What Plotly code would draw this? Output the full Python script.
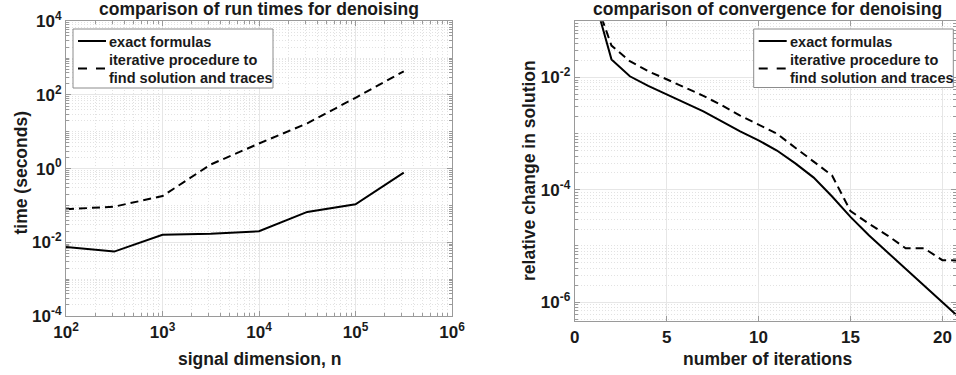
import plotly.graph_objects as go

# ---------------- data ----------------
signal_dim = [100, 316, 1000, 3162, 10000, 31623, 100000, 316228]
time_exact = [0.0075, 0.0056, 0.016, 0.017, 0.020, 0.067, 0.108, 0.78]
time_iter = [0.079, 0.093, 0.18, 1.3, 4.8, 17, 84, 440]

iterations = [1, 2, 3, 4, 5, 6, 7, 8, 9, 10, 11, 12, 13, 14, 15, 16, 17, 18, 19, 20, 21]
conv_exact = [0.31, 0.021, 0.0105, 0.0071, 0.0050, 0.0035, 0.0025, 0.00166, 0.0011,
              7.6e-4, 5.0e-4, 2.95e-4, 1.65e-4, 7.6e-5, 3.3e-5, 1.55e-5, 7.8e-6,
              3.9e-6, 1.95e-6, 1.0e-6, 5.0e-7]
conv_iter = [0.31, 0.037, 0.0195, 0.0129, 0.0093, 0.0066, 0.0047, 0.0032, 0.0021,
             0.00145, 0.0010, 5.6e-4, 3.2e-4, 1.8e-4, 4.2e-5, 2.5e-5, 1.55e-5,
             9.1e-6, 9.1e-6, 5.6e-6, 5.5e-6]

left_xticks = [1e2, 1e3, 1e4, 1e5, 1e6]
left_xticktext = ["10<sup>2</sup>", "10<sup>3</sup>", "10<sup>4</sup>", "10<sup>5</sup>", "10<sup>6</sup>"]
left_yticks = [1e-4, 1e-2, 1e0, 1e2, 1e4]
left_yticktext = ["10<sup>-4</sup>", "10<sup>-2</sup>", "10<sup>0</sup>", "10<sup>2</sup>", "10<sup>4</sup>"]
right_xticks = [0, 5, 10, 15, 20]
right_yticks = [1e-6, 1e-4, 1e-2]
right_yticktext = ["10<sup>-6</sup>", "10<sup>-4</sup>", "10<sup>-2</sup>"]

legend_lines = ["exact formulas", "iterative procedure to", "find solution and traces"]

# ---------------- styles ----------------
FONT = "Liberation Sans, Arial, sans-serif"
TXT = "#1a1a1a"
AXC = "#9a9a9a"
GRID = "#e6e6e6"
MGRID = "#e2e2e2"
DASH = "8px,5px"
W, H = 956, 375


def log_minor(d0, d1, extra=()):
    vals = [k * 10.0 ** d for d in range(d0, d1) for k in range(2, 10)]
    vals += [10.0 ** e for e in extra]
    return vals


def px(x):
    return x / W


def py(y):
    return 1 - y / H


fig = go.Figure()

fig.add_trace(go.Scatter(x=signal_dim, y=time_exact, mode="lines", name=legend_lines[0],
                         line=dict(color="black", width=2), xaxis="x", yaxis="y"))
fig.add_trace(go.Scatter(x=signal_dim, y=time_iter, mode="lines",
                         name=legend_lines[1] + " " + legend_lines[2],
                         line=dict(color="black", width=2, dash=DASH), xaxis="x", yaxis="y"))
fig.add_trace(go.Scatter(x=iterations, y=conv_exact, mode="lines", name=legend_lines[0],
                         line=dict(color="black", width=2), xaxis="x2", yaxis="y2"))
fig.add_trace(go.Scatter(x=iterations, y=conv_iter, mode="lines",
                         name=legend_lines[1] + " " + legend_lines[2],
                         line=dict(color="black", width=2, dash=DASH), xaxis="x2", yaxis="y2"))

tickfont = dict(family=FONT, size=17, color=TXT, weight="bold")

common = dict(showline=True, linecolor=AXC, linewidth=1, mirror="ticks",
              ticks="inside", ticklen=5, tickcolor=AXC, showgrid=True,
              gridcolor=GRID, gridwidth=1, zeroline=False, tickfont=tickfont,
              automargin=False)
minor_common = dict(tickmode="array", showgrid=True, gridcolor=MGRID, griddash="1px,2px",
                    ticks="inside", ticklen=3, tickcolor=AXC)

fig.update_layout(
    width=W, height=H,
    margin=dict(l=0, r=0, t=0, b=0),
    paper_bgcolor="white", plot_bgcolor="white",
    showlegend=False,
    xaxis=dict(domain=[px(66), px(452)], type="log", range=[2, 6], anchor="y",
               tickmode="array", tickvals=left_xticks, ticktext=left_xticktext,
               ticklabelstandoff=1,
               minor=dict(tickvals=log_minor(2, 6), **minor_common),
               **common),
    yaxis=dict(domain=[py(316), py(21.3)], type="log", range=[-4, 4], anchor="x",
               tickmode="array", tickvals=left_yticks, ticktext=left_yticktext,
               minor=dict(tickvals=log_minor(-4, 4, extra=(-3, -1, 1, 3)), **minor_common),
               **common),
    xaxis2=dict(domain=[px(574.7), 1.0], range=[0, 20.74], anchor="y2",
                tickmode="array", tickvals=right_xticks, ticklabelstandoff=1,
                **common),
    yaxis2=dict(domain=[py(320.7), py(21.3)], type="log", range=[-6.33, -1.0], anchor="x2",
                tickmode="array", tickvals=right_yticks, ticktext=right_yticktext,
                minor=dict(tickvals=log_minor(-7, -1, extra=(-5, -3)), **minor_common),
                **common),
)

# ---------------- legends (drawn as boxes with line samples and text) ----------------
legfont = dict(family=FONT, size=14.5, color=TXT, weight="bold")
for (bx0, bx1, by0, by1) in [(73, 273, 29, 88), (753.7, 953.3, 29, 87.5)]:
    fig.add_shape(type="rect", xref="paper", yref="paper",
                  x0=px(bx0), x1=px(bx1), y0=py(by1), y1=py(by0),
                  line=dict(color="#8c8c8c", width=1), fillcolor="white", layer="above")
    fig.add_shape(type="line", xref="paper", yref="paper",
                  x0=px(bx0 + 5), x1=px(bx0 + 33), y0=py(41), y1=py(41),
                  line=dict(color="black", width=2), layer="above")
    fig.add_shape(type="line", xref="paper", yref="paper",
                  x0=px(bx0 + 5), x1=px(bx0 + 33), y0=py(68.5), y1=py(68.5),
                  line=dict(color="black", width=2, dash="9px,9px"), layer="above")
    for txt, yy in zip(legend_lines, [41.5, 60, 77.5]):
        fig.add_annotation(xref="paper", yref="paper", showarrow=False, xanchor="left",
                           yanchor="middle", x=px(bx0 + 34), y=py(yy), text=txt, font=legfont)

labfont = dict(family=FONT, size=17.5, color=TXT, weight="bold")
annots = [
    dict(text="comparison of run times for denoising", x=px(259), y=py(9)),
    dict(text="comparison of convergence for denoising", x=px(767.7), y=py(9)),
    dict(text="signal dimension, n", x=px(259), y=py(358.5)),
    dict(text="number of iterations", x=px(767.7), y=py(358.5)),
    dict(text="time (seconds)", x=px(20), y=py(172.5), textangle=-90),
    dict(text="relative change in solution", x=px(529), y=py(171), textangle=-90),
]
for a in annots:
    fig.add_annotation(xref="paper", yref="paper", showarrow=False, xanchor="center",
                       yanchor="middle", font=labfont, **a)

fig.write_html("out.html")
